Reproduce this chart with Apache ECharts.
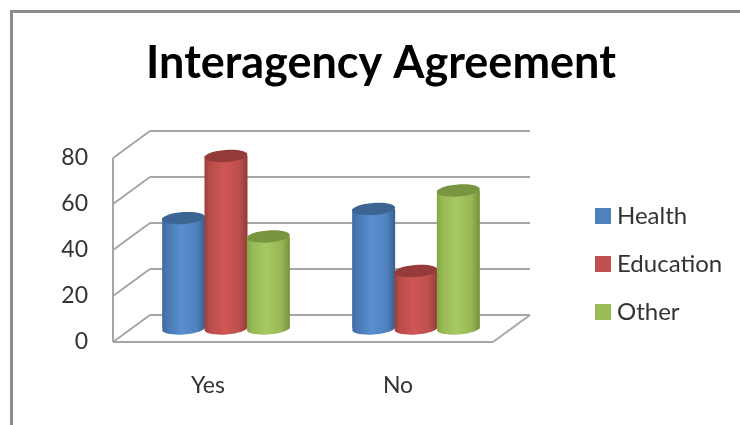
<!DOCTYPE html>
<html><head><meta charset="utf-8">
<style>html,body{margin:0;padding:0;background:#fff}#c{width:740px;height:425px}</style>
<script src="https://cdn.jsdelivr.net/npm/echarts@6/dist/echarts.min.js"></script></head>
<body><div id="c"></div>
<script>
const categories = ['Yes', 'No'];
const health = [48, 52];
const education = [75, 25];
const other = [40, 60];
const ticks = [0, 20, 40, 60, 80];

const FONT = 'Lato, "Open Sans", sans-serif';
const WALL = {dx: 37, dy: -27};
const BAR = {dx: 18, dy: -13.5, w: 43, ry: 6, tilt: 0.07};
const lineStyle = {stroke: '#a6a6a6', lineWidth: 2, fill: null};

function grad(stops) {
  return {type: 'linear', x: 0, y: 0, x2: 1, y2: 0,
    colorStops: stops.map((c, i) => ({offset: [0, .12, .45, .8, 1][i], color: c}))};
}
function wallItem(params, api) {
  const v = api.value(1);
  const cs = params.coordSys;
  const y = api.coord([0, v])[1];
  const x0 = cs.x, x1 = cs.x + cs.width;
  const children = [
    {type: 'line', shape: {x1: x0, y1: y, x2: x0 + WALL.dx, y2: y + WALL.dy}, style: lineStyle},
    {type: 'line', shape: {x1: x0 + WALL.dx, y1: y + WALL.dy, x2: x1 + WALL.dx, y2: y + WALL.dy}, style: lineStyle}
  ];
  if (v === 0) {
    children.push({type: 'line', shape: {x1: x0, y1: y, x2: x1, y2: y}, style: lineStyle});
    children.push({type: 'line', shape: {x1: x1, y1: y, x2: x1 + WALL.dx, y2: y + WALL.dy}, style: lineStyle});
    children.push({type: 'line', shape: {x1: x0, y1: y, x2: x0, y2: cs.y}, style: lineStyle});
  }
  return {type: 'group', children};
}
function cylinder(seriesIndex, side, top) {
  return function (params, api) {
    const cat = api.value(0), v = api.value(1);
    const band = api.size([1, 0])[0];
    const p = api.coord([cat, v]), b = api.coord([cat, 0]);
    const w = band * BAR.w / 190;
    const cx = p[0] + BAR.dx + (seriesIndex - 1) * w * 0.985;
    const yt = p[1] + BAR.dy, yb = b[1] + BAR.dy;
    const ell = (y, fill) => ({type: 'ellipse', x: cx, y: y, rotation: BAR.tilt,
      shape: {cx: 0, cy: 0, rx: w / 2, ry: BAR.ry}, style: {fill}});
    return {type: 'group', children: [
      ell(yb, grad(side)),
      {type: 'rect', shape: {x: cx - w / 2, y: yt, width: w, height: yb - yt}, style: {fill: grad(side)}},
      ell(yt, top)
    ]};
  };
}
function barSeries(name, values, i, color, side, top) {
  return {type: 'custom', name, xAxisIndex: 0, yAxisIndex: 0, silent: true, z: 3 + i,
    itemStyle: {color}, encode: {x: 0, y: 1},
    data: values.map((v, k) => [k, v]), renderItem: cylinder(i, side, top)};
}
const chart = echarts.init(document.getElementById('c'), null, {renderer: 'canvas'});
chart.setOption({
  animation: false,
  backgroundColor: '#fff',
  title: {text: 'Interagency Agreement', left: 376, top: 36, textAlign: 'center',
    textStyle: {fontFamily: FONT, fontWeight: 'bold', fontSize: 45, color: '#000'}},
  legend: {data: ['Health', 'Education', 'Other'], orient: 'vertical', left: 590, top: 199,
    itemWidth: 16, itemHeight: 16, itemGap: 24, icon: 'rect', selectedMode: false,
    textStyle: {fontFamily: FONT, fontSize: 24, color: '#333', padding: [0, 0, 0, 1]}},
  grid: {left: 113, top: 158, width: 380, height: 184, containLabel: false},
  xAxis: {type: 'category', data: categories, axisLine: {show: false}, axisTick: {show: false},
    axisLabel: {fontFamily: FONT, fontSize: 23, color: '#333', margin: 32}},
  yAxis: {type: 'value', min: 0, max: 80, interval: 20, axisLine: {show: false}, axisTick: {show: false},
    splitLine: {show: false},
    axisLabel: {fontFamily: FONT, fontSize: 23, color: '#333', margin: 25,
      formatter: v => ticks.includes(v) ? String(v) : ''}},
  graphic: [
    {type: 'line', shape: {x1: 11, y1: 11.5, x2: 740, y2: 11.5}, style: {stroke: '#8c8c8c', lineWidth: 3}},
    {type: 'line', shape: {x1: 11.5, y1: 10, x2: 11.5, y2: 425}, style: {stroke: '#8c8c8c', lineWidth: 3}}
  ],
  series: [
    {type: 'custom', silent: true, z: 1, encode: {x: 0, y: 1},
      data: ticks.map(t => [0, t]), renderItem: wallItem},
    barSeries('Health', health, 0, '#4f81bd',
      ['#3d6a9e', '#4877b2', '#5a8ecf', '#4f82be', '#38628f'], '#3c6594'),
    barSeries('Education', education, 1, '#c0504d',
      ['#9a3f3c', '#b84c49', '#cf5755', '#bf4f4c', '#8f3b39'], '#953c3a'),
    barSeries('Other', other, 2, '#9bbb59',
      ['#84a344', '#98b856', '#a6c961', '#98b755', '#779339'], '#799540')
  ]
});
</script></body></html>
